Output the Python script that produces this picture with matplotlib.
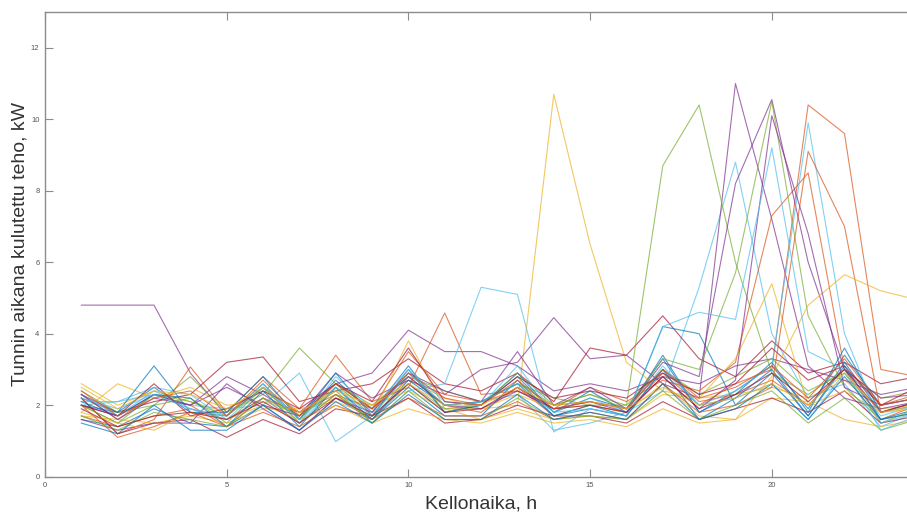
import matplotlib
matplotlib.use("Agg")
import matplotlib.pyplot as plt

# tunnit 1..24 ja kunkin päivän tuntiteho (kW)
tunnit = list(range(1, 25))

paivat = [
    [2.2, 1.8, 2.5, 1.8, 1.7, 2.6, 1.6, 2.7, 1.8, 3.1, 1.8, 2.0, 2.8, 1.8, 2.2, 1.9, 3.3, 1.8, 2.4, 3.1, 1.9, 3.4, 2.0, 2.2],
    [2.3, 1.6, 2.3, 2.0, 1.4, 2.2, 1.5, 2.3, 1.6, 2.8, 2.0, 1.8, 2.5, 1.7, 2.0, 1.8, 2.9, 2.0, 2.6, 3.0, 10.4, 9.6, 3.0, 2.8],
    [2.6, 2.0, 2.4, 2.1, 1.8, 2.4, 1.7, 2.5, 1.9, 2.7, 2.2, 1.9, 2.0, 10.7, 6.5, 3.2, 2.4, 2.2, 2.3, 2.5, 2.2, 2.7, 1.9, 2.0],
    [4.8, 4.8, 4.8, 2.9, 1.7, 2.5, 1.8, 2.6, 2.9, 4.1, 3.5, 3.5, 3.1, 2.4, 2.6, 2.4, 2.8, 2.6, 3.1, 3.3, 3.0, 2.7, 2.3, 2.5],
    [2.0, 1.5, 2.0, 2.8, 1.8, 2.3, 3.6, 2.6, 2.0, 2.8, 2.4, 2.1, 2.6, 2.2, 2.0, 2.0, 3.0, 2.3, 2.8, 3.3, 2.4, 2.9, 1.5, 1.9],
    [2.0, 2.1, 2.3, 2.0, 1.9, 2.0, 2.9, 0.98, 1.7, 2.6, 1.8, 2.1, 2.3, 1.3, 1.5, 1.8, 2.4, 5.3, 8.8, 4.0, 2.2, 2.6, 1.4, 1.8],
    [2.3, 1.8, 2.1, 2.3, 3.2, 3.35, 2.1, 2.4, 2.6, 3.3, 2.6, 2.4, 2.9, 2.1, 3.6, 3.4, 4.5, 3.3, 2.8, 3.8, 2.9, 3.2, 2.6, 2.8],
    [1.6, 1.4, 1.9, 1.5, 1.4, 2.0, 1.3, 2.2, 1.6, 2.5, 1.7, 1.7, 2.7, 1.7, 1.9, 1.7, 4.2, 4.0, 2.0, 2.9, 1.7, 3.2, 1.8, 2.0],
    [2.2, 1.2, 1.6, 3.07, 1.8, 2.8, 1.9, 3.4, 2.1, 2.5, 4.58, 2.3, 2.4, 2.0, 2.1, 1.9, 3.0, 2.1, 2.3, 2.7, 2.0, 3.0, 1.6, 2.0],
    [1.8, 2.6, 2.2, 2.5, 2.0, 2.1, 1.8, 2.2, 2.0, 2.4, 1.9, 1.9, 2.3, 1.9, 2.0, 1.8, 2.6, 1.7, 1.6, 2.2, 2.1, 1.6, 1.4, 1.6],
    [2.0, 1.7, 2.3, 2.0, 2.8, 2.3, 1.7, 2.9, 2.2, 2.7, 2.3, 3.0, 3.2, 4.45, 3.3, 3.4, 2.6, 2.2, 11.0, 7.2, 3.1, 2.2, 1.9, 2.1],
    [2.4, 1.8, 2.0, 2.2, 1.5, 2.5, 1.6, 2.6, 1.7, 2.9, 2.0, 2.1, 2.6, 2.0, 2.3, 2.0, 8.7, 10.4, 6.0, 2.9, 2.3, 3.0, 2.2, 2.4],
    [2.1, 2.1, 2.5, 2.3, 1.6, 2.2, 1.5, 2.5, 1.5, 2.4, 2.6, 5.3, 5.1, 1.25, 1.9, 1.7, 3.0, 2.0, 2.2, 2.6, 1.6, 2.9, 1.7, 2.0],
    [2.2, 1.2, 1.5, 1.6, 1.1, 1.6, 1.2, 1.9, 1.7, 2.2, 1.5, 1.6, 2.0, 1.7, 1.7, 1.5, 2.1, 1.6, 1.9, 2.2, 1.8, 2.4, 1.5, 1.7],
    [2.0, 1.8, 3.1, 1.8, 1.8, 2.8, 1.6, 2.9, 1.7, 3.0, 1.8, 2.0, 2.9, 1.8, 2.4, 1.8, 3.4, 1.8, 2.3, 3.2, 1.8, 3.6, 1.8, 2.1],
    [1.7, 1.4, 1.7, 1.9, 1.6, 2.2, 1.8, 2.3, 1.9, 3.5, 2.3, 2.1, 2.4, 1.9, 2.5, 2.1, 2.7, 2.4, 3.2, 7.3, 8.5, 3.0, 2.0, 2.3],
    [1.7, 1.6, 1.5, 1.7, 1.5, 1.9, 1.9, 2.1, 1.7, 3.8, 1.9, 1.6, 1.9, 1.6, 1.7, 1.6, 2.3, 2.2, 3.3, 5.4, 2.0, 2.4, 1.8, 1.9],
    [1.6, 1.3, 1.5, 1.5, 2.6, 1.9, 1.3, 2.2, 1.8, 2.9, 2.4, 2.1, 3.5, 2.0, 2.5, 1.9, 3.2, 2.8, 8.2, 10.55, 6.0, 3.0, 2.2, 2.3],
    [2.0, 1.5, 2.3, 2.1, 1.7, 2.5, 1.5, 2.3, 1.6, 2.6, 1.9, 2.0, 2.9, 2.0, 2.3, 1.9, 3.3, 3.0, 5.7, 10.5, 4.5, 2.5, 1.6, 1.8],
    [2.3, 1.7, 2.4, 1.9, 1.7, 2.6, 1.5, 2.8, 1.9, 3.0, 2.1, 2.0, 3.1, 1.8, 2.2, 1.8, 3.1, 2.0, 2.4, 3.1, 9.9, 4.0, 1.5, 1.8],
    [2.0, 1.7, 2.6, 1.7, 1.9, 2.4, 1.9, 2.6, 2.1, 3.6, 2.1, 2.0, 2.8, 2.2, 2.4, 2.2, 2.9, 2.3, 2.6, 3.6, 2.7, 3.1, 2.0, 2.5],
    [2.1, 1.7, 2.3, 2.2, 1.4, 2.4, 1.4, 2.5, 1.6, 2.7, 2.0, 2.1, 2.6, 1.7, 2.0, 1.7, 3.0, 1.6, 2.2, 3.0, 1.7, 3.1, 1.6, 1.9],
    [2.0, 1.1, 1.4, 1.8, 1.4, 1.8, 1.4, 2.0, 1.6, 2.2, 1.7, 1.7, 2.1, 1.6, 1.8, 1.6, 2.6, 1.8, 2.0, 2.5, 9.1, 7.0, 1.8, 2.1],
    [1.8, 1.5, 1.3, 1.8, 1.6, 2.0, 1.6, 2.0, 1.5, 1.9, 1.6, 1.5, 1.8, 1.5, 1.6, 1.4, 1.9, 1.5, 1.6, 2.8, 4.8, 5.65, 5.2, 4.95],
    [2.3, 1.6, 2.2, 2.0, 2.5, 2.0, 1.7, 2.6, 1.9, 2.8, 2.0, 1.9, 2.4, 1.9, 2.1, 1.8, 2.8, 1.9, 2.7, 10.1, 6.8, 2.5, 2.0, 2.2],
    [1.7, 1.3, 1.8, 1.6, 1.4, 2.2, 1.7, 2.4, 1.5, 2.4, 1.6, 1.6, 2.2, 1.6, 1.7, 1.6, 2.4, 1.6, 2.0, 2.4, 1.5, 2.2, 1.3, 1.6],
    [2.2, 1.9, 2.3, 1.9, 1.6, 2.5, 1.6, 2.5, 1.7, 2.9, 2.0, 2.1, 2.6, 1.8, 1.9, 1.7, 4.2, 4.6, 4.4, 9.2, 3.5, 3.0, 1.3, 1.7],
    [1.9, 1.4, 1.7, 1.8, 1.6, 2.1, 1.5, 2.2, 1.7, 2.6, 1.8, 1.9, 2.5, 1.9, 2.0, 1.8, 2.8, 1.9, 2.3, 2.9, 2.1, 3.0, 1.8, 2.1],
    [1.5, 1.2, 2.0, 1.3, 1.3, 2.0, 1.3, 2.1, 1.5, 2.3, 1.6, 1.6, 2.3, 1.6, 1.8, 1.6, 2.6, 1.6, 1.9, 2.6, 1.6, 2.8, 1.6, 1.8],
    [2.4, 1.7, 2.2, 2.4, 1.7, 2.7, 1.7, 2.6, 1.9, 2.9, 2.2, 2.0, 2.7, 1.9, 2.1, 1.9, 3.0, 2.2, 2.5, 3.1, 2.2, 3.3, 2.0, 2.2],
    [2.5, 1.9, 2.4, 2.3, 1.9, 2.5, 1.8, 2.4, 2.0, 2.6, 2.0, 2.0, 2.5, 2.0, 2.1, 1.9, 2.5, 2.0, 2.2, 2.6, 2.0, 2.9, 1.8, 2.0],
]

# matlabin oletusvärit
varit = ["#0072BD", "#D95319", "#EDB120", "#7E2F8E", "#77AC30", "#4DBEEE", "#A2142F"]

plt.rcParams["font.family"] = ["Liberation Sans", "DejaVu Sans"]

fig = plt.figure(figsize=(9.07, 5.13), dpi=100)
ax = fig.add_axes([45 / 907, 1 - 476.7 / 513, 1 - 45 / 907, (476.7 - 12) / 513])

for i, p in enumerate(paivat):
    ax.plot(tunnit, p, color=varit[i % 7], lw=0.8, alpha=0.7)

ax.set_xlim(0, 23.72)
ax.set_ylim(0, 13)
ax.set_xticks([0, 5, 10, 15, 20])
ax.set_yticks([0, 2, 4, 6, 8, 10, 12])

gray = "#8c8c8c"
for s in ["left", "bottom", "top"]:
    ax.spines[s].set_color(gray)
    ax.spines[s].set_linewidth(1.0)
ax.spines["right"].set_visible(False)
ax.tick_params(direction="in", length=6, width=0.8, color=gray, labelsize=5.5,
               labelcolor="#555555", top=True, pad=4)

ax.set_xlabel("Kellonaika, h", fontsize=14, color="#333333")
ax.set_ylabel("Tunnin aikana kulutettu teho, kW", fontsize=14, color="#333333")
ax.xaxis.set_label_coords(12.0 / 23.72, -0.04)
ax.yaxis.set_label_coords(-0.019, 0.5)

fig.savefig("out.png", dpi=100)
